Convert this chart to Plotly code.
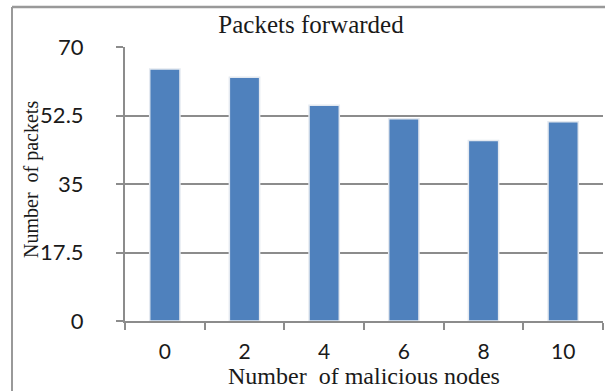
import plotly.graph_objects as go

categories = ["0", "2", "4", "6", "8", "10"]
packets = [64.4, 62.3, 55.1, 51.7, 46.1, 50.9]
y_ticks = [0, 17.5, 35, 52.5, 70]
y_tick_labels = ["0", "17.5", "35", "52.5", "70"]

fig = go.Figure()
fig.add_trace(go.Bar(
    x=categories, y=packets,
    marker=dict(color="#4F81BD", line=dict(color="#e4e9f0", width=1.5)),
))

left_px = 12
top_px = 7
fx = (left_px - 125) / 478
fy = (321 - top_px) / 274

fig.update_layout(
    width=605, height=391,
    margin=dict(l=125, r=2, t=47, b=70, autoexpand=False),
    paper_bgcolor="white", plot_bgcolor="white",
    bargap=0.62,
    showlegend=False,
    title=dict(text="Packets forwarded", x=311 / 605, xref="container", xanchor="center",
               y=1 - 24 / 391, yref="container", yanchor="middle",
               font=dict(family="Liberation Serif", size=25, color="#1a1a1a")),
    shapes=[
        dict(type="line", xref="paper", yref="paper", x0=fx, x1=fx,
             y0=(321 - 395) / 274, y1=fy,
             line=dict(color="#999999", width=2), layer="above"),
        dict(type="line", xref="paper", yref="paper", x0=fx, x1=(606 - 125) / 478,
             y0=fy, y1=fy,
             line=dict(color="#999999", width=2.5), layer="above"),
    ],
    annotations=[
        dict(text="Number\u00a0\u00a0of packets", textangle=-90, xref="paper", yref="paper",
             x=(31 - 125) / 478, y=(321 - 180) / 274, xanchor="center", yanchor="middle",
             showarrow=False,
             font=dict(family="Liberation Serif", size=20, color="#1a1a1a")),
    ],
)

fig.update_xaxes(
    type="category", tickson="boundaries", ticks="outside", ticklen=7, tickwidth=2,
    tickcolor="#8c8c8c", showline=True, linecolor="#8c8c8c", linewidth=2,
    showgrid=False, tickfont=dict(family="Lato", size=21, color="#1a1a1a"),
    ticklabelstandoff=11, automargin=False,
    title=dict(text="Number\u00a0\u00a0of malicious nodes", standoff=0,
               font=dict(family="Liberation Serif", size=24, color="#1a1a1a")),
)
fig.update_yaxes(
    range=[0, 70], tickvals=y_ticks, ticktext=y_tick_labels,
    ticks="outside", ticklen=7, tickwidth=2, tickcolor="#8c8c8c",
    showline=True, linecolor="#8c8c8c", linewidth=2,
    showgrid=True, gridcolor="#8c8c8c", gridwidth=2,
    zeroline=False, automargin=False,
    tickfont=dict(family="Lato", size=22, color="#1a1a1a"),
    ticklabelstandoff=28,
)

fig.write_html("out.html", config={"displayModeBar": False},
               post_script="document.body.style.margin='0';")
